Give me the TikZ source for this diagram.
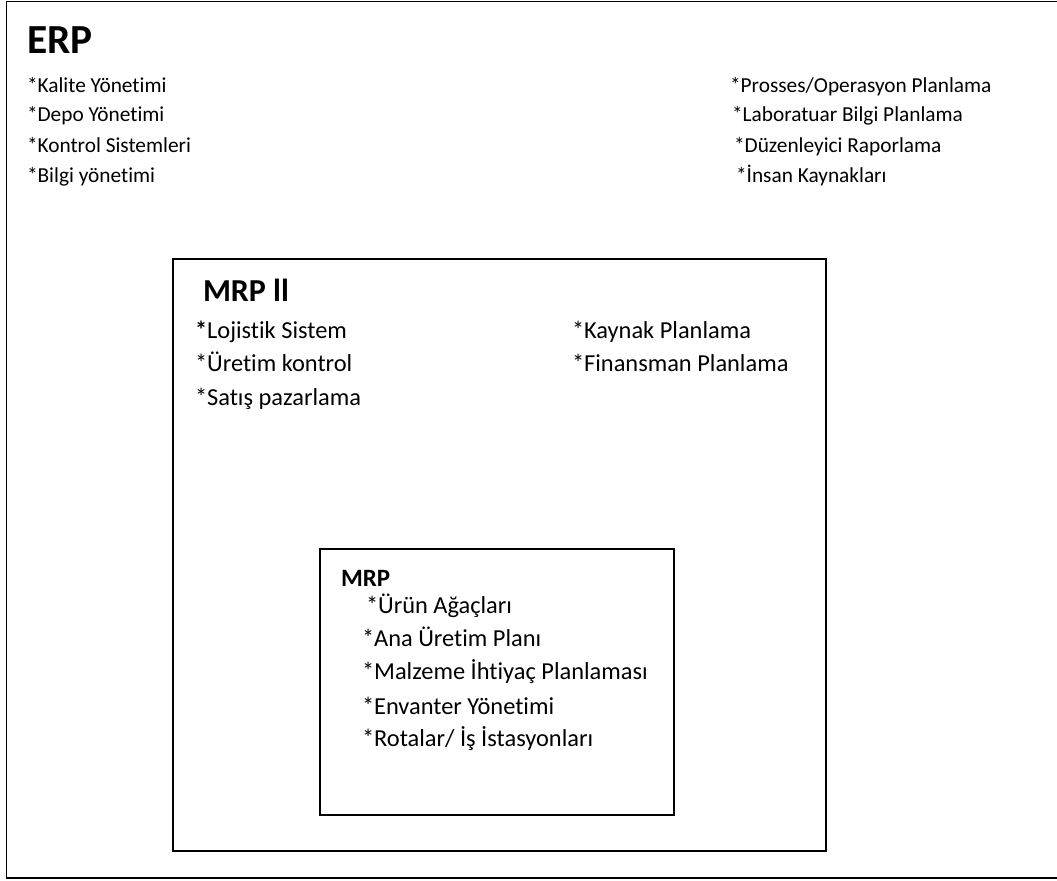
\documentclass[tikz,border=0pt]{standalone}
\usepackage{fontspec}
\setmainfont{Carlito}[Ligatures={NoCommon,NoContextual}]
\begin{document}
\begin{tikzpicture}[x=0.75pt,y=-0.75pt,
  frame/.style={draw=black,line width=1.2pt},
  txt/.style={anchor=base west,inner sep=0pt,outer sep=0pt},
  erpitem/.style={txt,font=\fontsize{16}{19}\selectfont},
  mrpiiitem/.style={txt,font=\fontsize{18.3}{22}\selectfont},
  mrpitem/.style={txt,font=\fontsize{18.3}{22}\selectfont},
  head/.style={txt,font=\bfseries}]
\useasboundingbox (0,0) rectangle (1057,881);
\clip (0,0) rectangle (1057,881);

% nested boxes
\draw[frame] (6.5,1.5) rectangle (1065,878);
\draw[frame] (173,259) rectangle (826,851);
\draw[frame] (320,549) rectangle (674,815);

% ERP
\node[head,font=\bfseries\fontsize{31}{36}\selectfont] (erp) at (27,54) {ERP};
\node[erpitem] (e1) at (27,93) {*Kalite Yönetimi};
\node[erpitem] (e2) at (27,122) {*Depo Yönetimi};
\node[erpitem] (e3) at (27,152) {*Kontrol Sistemleri};
\node[erpitem] (e4) at (27,182) {*Bilgi yönetimi};
\node[erpitem] (e5) at (730,93) {*Prosses/Operasyon Planlama};
\node[erpitem] (e6) at (732,122) {*Laboratuar Bilgi Planlama};
\node[erpitem] (e7) at (734,152) {*Düzenleyici Raporlama};
\node[erpitem] (e8) at (736,182) {*İnsan Kaynakları};

% MRP II
\node[head,font=\bfseries\fontsize{24}{29}\selectfont] (mrpii) at (203,301) {MRP ll};
\node[mrpiiitem] (m1) at (195,338) {\textbf{*}Lojistik Sistem};
\node[mrpiiitem] (m2) at (195,371) {*Üretim kontrol};
\node[mrpiiitem] (m3) at (195,405) {*Satış pazarlama};
\node[mrpiiitem] (m4) at (572,338) {*Kaynak Planlama};
\node[mrpiiitem] (m5) at (572,371) {*Finansman Planlama};

% MRP
\node[head,font=\bfseries\fontsize{18.7}{22}\selectfont] (mrp) at (341,586) {MRP};
\node[mrpitem] (r1) at (366,613) {*Ürün Ağaçları};
\node[mrpitem] (r2) at (362,646) {*Ana Üretim Planı};
\node[mrpitem] (r3) at (362,679) {*Malzeme İhtiyaç Planlaması};
\node[mrpitem] (r4) at (362,714) {*Envanter Yönetimi};
\node[mrpitem] (r5) at (362,746) {*Rotalar/ İş İstasyonları};
\end{tikzpicture}
\end{document}
